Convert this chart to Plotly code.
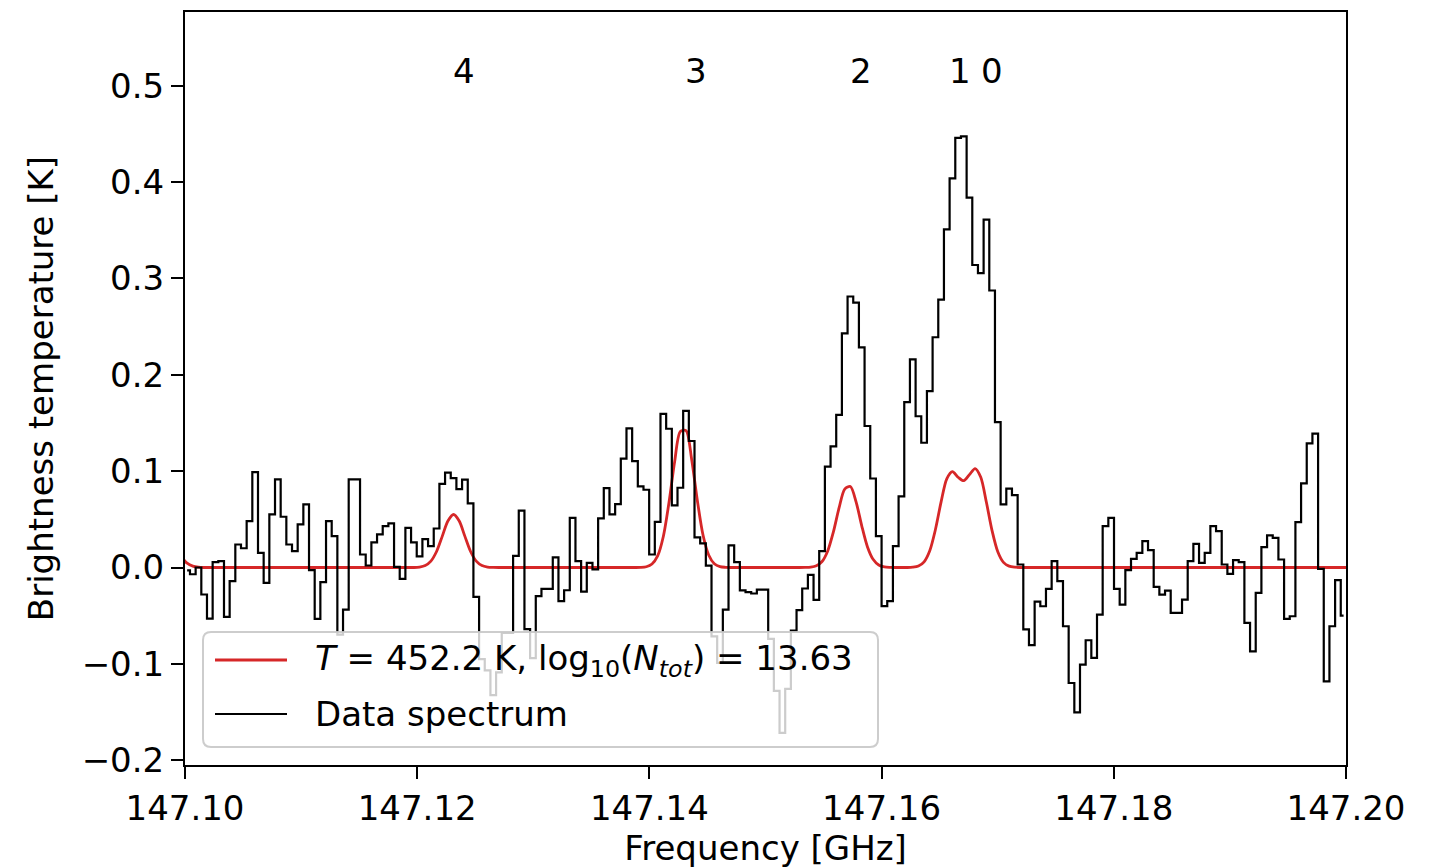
import numpy as np
import plotly.graph_objects as go

# ---------------- data ----------------
# channel grid of the spectrum (GHz): first channel centre and channel width
chan0_freq = 147.100672
chan_width = 0.00048828

# observed brightness temperature per channel (K), channels -1 .. 203
data_tb = [
    -0.003, -0.007, 0.000, -0.028, -0.053, 0.0055, 0.0066, -0.0513, -0.0142, 0.0239,
    0.020, 0.0482, 0.0991, 0.0152, -0.0159, 0.0551, 0.0915, 0.0527, 0.0239, 0.017,
    0.0447, 0.0655, -0.0028, -0.0534, -0.0152, 0.0482, 0.0326, -0.0696, -0.0437, 0.0915,
    0.0915, 0.0135, 0.0021, 0.0260, 0.0343, 0.0430, 0.0457, 0.0007, -0.0118, 0.0412,
    0.0260, 0.0115, 0.0295, 0.0222, 0.0405, 0.0868, 0.0984, 0.0928, 0.0814, 0.0912,
    0.0665, -0.0305, -0.0950, -0.1067, -0.1325, -0.1088, -0.068, -0.068, 0.012, 0.059,
    -0.064, -0.094, -0.0298, -0.0222, -0.0222, 0.0105, -0.035, -0.0236, 0.0516, 0.0066,
    -0.025, 0.0049, -0.002, 0.051, 0.0823, 0.0551, 0.0658, 0.113, 0.1445, 0.1105,
    0.0842, 0.0807, 0.0135, 0.0473, 0.1595, 0.144, 0.0644, 0.0828, 0.1625, 0.1313,
    0.0313, 0.025, 0.002, -0.0714, -0.099, -0.0437, 0.023, 0.0055, -0.0238, -0.0256,
    -0.027, -0.023, -0.023, -0.074, -0.128, -0.1716, -0.126, -0.0655, -0.0442, -0.0218,
    -0.0076, -0.0335, 0.017, 0.1047, 0.1257, 0.1584, 0.243, 0.2813, 0.275, 0.2285,
    0.1469, 0.0924, 0.0326, -0.040, -0.035, 0.0222, 0.0738, 0.1716, 0.216, 0.157,
    0.1295, 0.183, 0.239, 0.278, 0.351, 0.404, 0.446, 0.4475, 0.384, 0.314,
    0.3056, 0.361, 0.2875, 0.151, 0.0655, 0.0818, 0.0752, 0.0031, -0.0643, -0.0805,
    -0.0355, -0.0402, -0.0222, 0.0066, -0.0142, -0.061, -0.1199, -0.1504, -0.1008, -0.0755,
    -0.0939, -0.0489, 0.043, 0.0516, -0.0222, -0.0385, -0.0028, 0.009, 0.0152, 0.0274,
    0.018, -0.0201, -0.0281, -0.0239, -0.0471, -0.0471, -0.0333, 0.0066, 0.0246, 0.0049,
    0.0152, 0.043, 0.0378, 0.0031, -0.0066, 0.0076, 0.0055, -0.0575, -0.087, -0.0263,
    0.0211, 0.0333, 0.0308, 0.0083, -0.0534, -0.0506, 0.0471, 0.0873, 0.1289, 0.139,
    -0.0014, -0.1182, -0.061, -0.0132, -0.0499,
]
data_first_channel = -1

# LTE model spectrum sampled on the channel grid, channels -2 .. 204
model_tb = (
    [0.011, 0.0045, 0.0015, 0.0003] + [0.0] * 38 +
    [0.0005, 0.0020, 0.0066, 0.0166, 0.0323, 0.0482, 0.0550, 0.0482, 0.0323, 0.0166,
     0.0066, 0.0020, 0.0005, 0.0001] + [0.0] * 25 +
    [0.0001, 0.0008, 0.0036, 0.0120, 0.0322, 0.0674, 0.1099, 0.1411, 0.1421, 0.1122,
     0.0696, 0.0337, 0.0130, 0.0039, 0.0009, 0.0002] + [0.0] * 13 +
    [0.0001, 0.0004, 0.0018, 0.0062, 0.0172, 0.0369, 0.0618, 0.0814, 0.0841, 0.0682,
     0.0433, 0.0216, 0.0085, 0.0026, 0.0006, 0.0001] + [0.0] * 3 +
    [0.0003, 0.0015, 0.0059, 0.0174, 0.0394, 0.0681, 0.0921, 0.0996, 0.0937, 0.0901,
     0.0964, 0.1027, 0.0936, 0.0674, 0.0380, 0.0163, 0.0053, 0.0014, 0.0003] + [0.0] * 59
)
model_first_channel = -2

# transition labels and their rest frequencies (GHz)
line_labels = ["4", "3", "2", "1", "0"]
line_freqs = [147.12291, 147.14289, 147.15710, 147.16564, 147.16840]
label_tb = 0.5156

x_ticks = [147.10, 147.12, 147.14, 147.16, 147.18, 147.20]
x_ticklabels = ["147.10", "147.12", "147.14", "147.16", "147.18", "147.20"]
y_ticks = [-0.2, -0.1, 0.0, 0.1, 0.2, 0.3, 0.4, 0.5]
y_ticklabels = ["\u22120.2", "\u22120.1", "0.0", "0.1", "0.2", "0.3", "0.4", "0.5"]

model_label = "<i>T</i> = 452.2 K, log<sub>10</sub>(<i>N<sub>tot</sub></i>) = 13.63"
data_label = "Data spectrum"

# ---------------- figure ----------------
data_freq = chan0_freq + chan_width * np.arange(data_first_channel, data_first_channel + len(data_tb))
model_freq = chan0_freq + chan_width * np.arange(model_first_channel, model_first_channel + len(model_tb))

FONT = "DejaVu Sans"
FS = 34
RED = "#d62728"

fig = go.Figure()
fig.add_trace(go.Scatter(x=model_freq, y=model_tb, mode="lines", name=model_label,
                         line=dict(color=RED, width=2.8, shape="spline", smoothing=0.8),
                         showlegend=False, hoverinfo="skip"))
fig.add_trace(go.Scatter(x=data_freq, y=data_tb, mode="lines", name=data_label,
                         line=dict(color="black", width=2.2, shape="hvh"),
                         showlegend=False, hoverinfo="skip"))

for lab, f in zip(line_labels, line_freqs):
    fig.add_annotation(x=f, y=label_tb, xref="x", yref="y", text=lab, showarrow=False,
                       xanchor="left", yanchor="middle", font=dict(family=FONT, size=FS, color="black"))

# manual legend (matplotlib-like fancy box)
W, H = 1161.0, 753.0
def px(x):
    return (x - 185.0) / W
def py(y):
    return (765.0 - y) / H

bx0, bx1, by_top, by_bot = px(203), px(878), py(632), py(747)
rx, ry = 8 / W, 8 / H
path = (f"M {bx0+rx},{by_bot} L {bx1-rx},{by_bot} Q {bx1},{by_bot} {bx1},{by_bot+ry} "
        f"L {bx1},{by_top-ry} Q {bx1},{by_top} {bx1-rx},{by_top} L {bx0+rx},{by_top} "
        f"Q {bx0},{by_top} {bx0},{by_top-ry} L {bx0},{by_bot+ry} Q {bx0},{by_bot} {bx0+rx},{by_bot} Z")
fig.add_shape(type="path", path=path, xref="paper", yref="paper", layer="above",
              fillcolor="rgba(255,255,255,0.8)", line=dict(color="rgba(200,200,200,0.9)", width=2))
fig.add_shape(type="line", xref="paper", yref="paper", x0=px(215), x1=px(287), y0=py(660), y1=py(660),
              line=dict(color=RED, width=2.8), layer="above")
fig.add_shape(type="line", xref="paper", yref="paper", x0=px(215), x1=px(287), y0=py(714), y1=py(714),
              line=dict(color="black", width=2.2), layer="above")
fig.add_annotation(x=px(313), y=py(660), xref="paper", yref="paper", text=model_label, showarrow=False,
                   xanchor="left", yanchor="middle", font=dict(family=FONT, size=FS, color="black"))
fig.add_annotation(x=px(313), y=py(714), xref="paper", yref="paper", text=data_label, showarrow=False,
                   xanchor="left", yanchor="middle", font=dict(family=FONT, size=FS, color="black"))

axis_common = dict(showline=True, linewidth=2, linecolor="black", mirror=True, showgrid=False,
                   zeroline=False, ticks="outside", ticklen=12, tickwidth=2, tickcolor="black",
                   tickfont=dict(family=FONT, size=FS, color="black"))
fig.update_xaxes(range=[147.10, 147.20], tickvals=x_ticks, ticktext=x_ticklabels,
                 title=dict(text="Frequency [GHz]", font=dict(family=FONT, size=FS, color="black"), standoff=8),
                 **axis_common)
fig.update_yaxes(range=[-0.205, 0.5766], tickvals=y_ticks, ticktext=y_ticklabels,
                 title=dict(text="Brightness temperature [K]", font=dict(family=FONT, size=FS, color="black"), standoff=18),
                 **axis_common)
fig.update_layout(width=1436, height=868, margin=dict(l=185, r=90, t=12, b=103, autoexpand=False),
                  paper_bgcolor="white", plot_bgcolor="white", showlegend=False,
                  font=dict(family=FONT, size=FS, color="black"))

fig.write_html("out.html")
